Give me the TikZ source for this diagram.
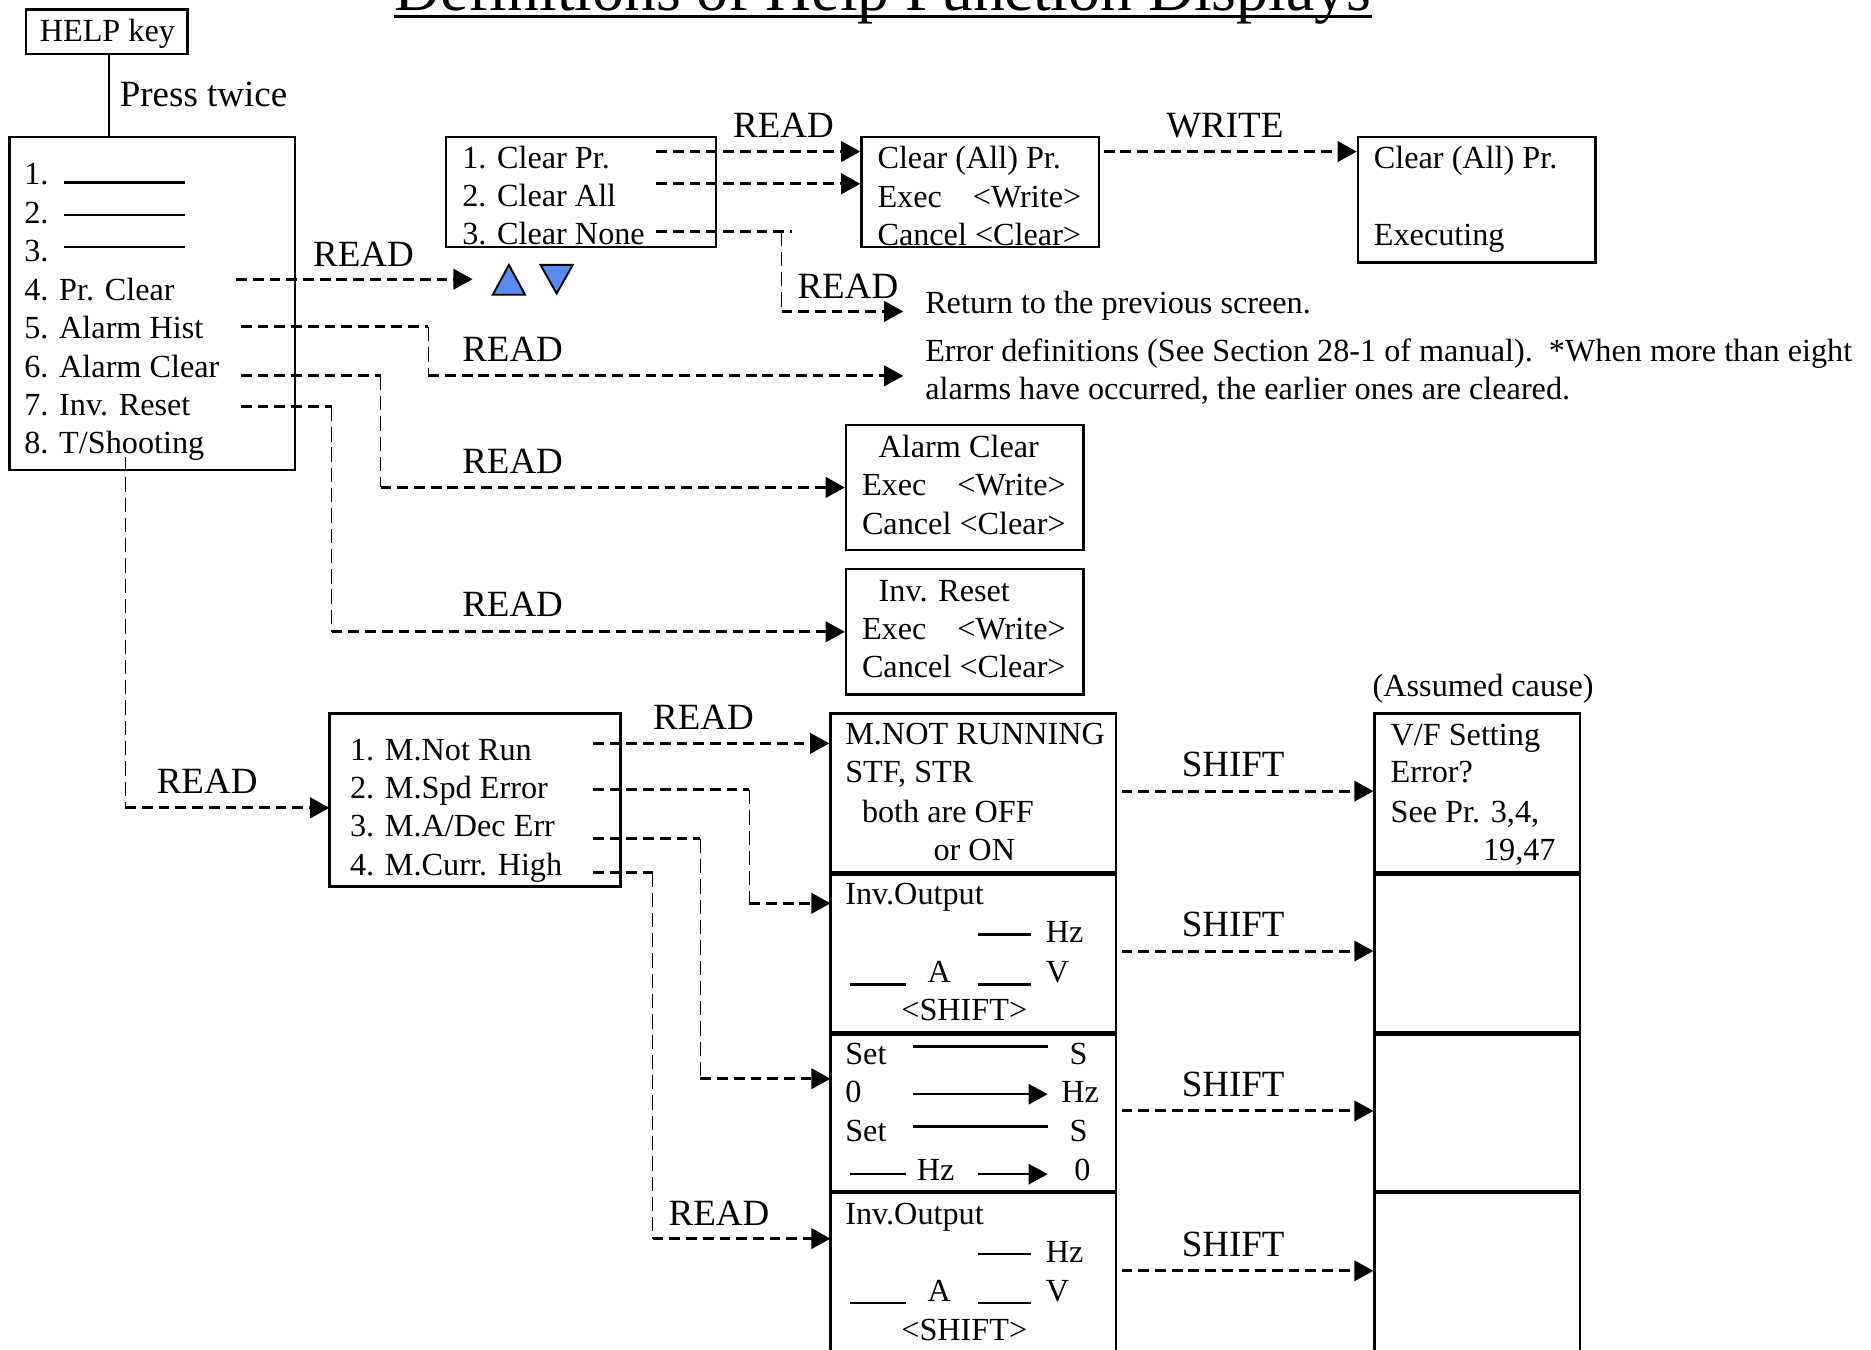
\documentclass[tikz,border=0pt]{standalone}
\usepackage{fontspec}
\setmainfont{Liberation Serif}
\usetikzlibrary{arrows.meta,fit}
\newcommand\boxfnt{\fontsize{13.5}{16}\selectfont}
\newcommand\lblfnt{\fontsize{15.5}{18}\selectfont}
\newcommand\ttlfnt{\fontsize{26.7}{30}\selectfont}
\definecolor{triblue}{RGB}{88,140,238}
\begin{document}
\begin{tikzpicture}[x=0.5pt,y=-0.5pt,
  box/.style={draw, line width=1pt, inner sep=0pt},
  txt/.style={anchor=base west, inner sep=0pt, font=\boxfnt},
  txtr/.style={anchor=base east, inner sep=0pt, font=\boxfnt},
  lbl/.style={anchor=base west, inner sep=0pt, font=\lblfnt},
  hd/.style={line width=1.25pt, dash pattern=on 4.5pt off 2.5pt},
  vd/.style={line width=0.6pt, dash pattern=on 6pt off 2.5pt},
  arr/.style={-{Triangle[length=8pt,width=8.5pt]}},
  uline/.style={line width=1pt},
  divider/.style={line width=2pt},
]
\useasboundingbox (0,0) rectangle (1568,1131);
\clip (0,0) rectangle (1568,1131);
\fill[white] (0,0) rectangle (1568,1131);

% title
\node[anchor=base west, inner sep=0pt, font=\ttlfnt] (title) at (330,9) {Definitions of Help Function Displays};
\draw[line width=1.3pt] ([yshift=-2.5pt]title.base west) -- ([yshift=-2.5pt]title.base east);

% HELP key
\node[box, fit={(22,8) (157,45)}] (help) {};
\node[txt] (helpt) at (33,35) {HELP key};
\node[box, fit={(8,115) (247,394)}] (main) {};
\coordinate (hk) at (91,46);
\draw[line width=0.8pt] (hk) -- (hk |- main.north);
\node[lbl] (press) at (100,89) {Press twice};

% main list
\node[txt] (i1) at (20,155) {1.};
\node[txt] (i2) at (20,187.2) {2.};
\node[txt] (i3) at (20,219.4) {3.};
\node[txt] (i4) at (20,251.6) {4. Pr. Clear};
\node[txt] (i5) at (20,283.8) {5. Alarm Hist};
\node[txt] (i6) at (20,316) {6. Alarm Clear};
\node[txt] (i7) at (20,348.2) {7. Inv. Reset};
\node[txt] (i8) at (20,380.4) {8. T/Shooting};
\draw[uline] (54,153) -- (155,153);
\draw[uline] (54,180) -- (155,180);
\draw[uline] (54,207) -- (155,207);

% Pr. Clear
\coordinate (c4) at (198,234);
\coordinate (c4e) at (396,234);
\draw[hd, arr] (c4) -- (c4e);
\node[lbl] (rd1) at (262,223) {READ};
\filldraw[fill=triblue, line width=0.8pt] (413,247) -- (426.5,222) -- (440,247) -- cycle;
\filldraw[fill=triblue, line width=0.8pt] (453,222) -- (480,222) -- (466.5,246) -- cycle;

% Clear box
\node[box, fit={(374,115) (600,207)}] (clr) {};
\node[txt] (cl1) at (387,141) {1. Clear Pr.};
\node[txt] (cl2) at (387,173) {2. Clear All};
\node[txt] (cl3) at (387,205) {3. Clear None};

\node[box, fit={(722,115) (921,207)}] (clrall) {};
\node[txt] (ca1) at (735,141) {Clear (All) Pr.};
\node[txt] (ca2) at (735,174) {Exec\hspace{13pt}<Write>};
\node[txt] (ca3) at (735,206) {Cancel <Clear>};

\node[box, fit={(1138,115) (1337,220)}] (exe) {};
\node[txt] (ex1) at (1151,141) {Clear (All) Pr.};
\node[txt] (ex2) at (1151,206) {Executing};

\coordinate (cp) at (550,127);
\draw[hd, arr] (cp) -- (cp -| clrall.west);
\coordinate (cal) at (550,154);
\draw[hd, arr] (cal) -- (cal -| clrall.west);
\node[lbl] (rd2) at (614,115) {READ};
\coordinate (cn) at (550,194);
\coordinate (cnx) at (664,194);
\coordinate (cnb) at (655,194);
\coordinate (ret) at (757,261);
\draw[hd] (cn) -- (cnx);
\draw[vd] (cnb) -- (cnb |- ret);
\draw[hd, arr] (cnb |- ret) -- (ret);
\node[lbl] (rd3) at (668,250) {READ};
\node[txt] (rett) at (775,263) {Return to the previous screen.};

\coordinate (wr) at (925,127);
\draw[hd, arr] (wr) -- (wr -| exe.west);
\node[lbl] (wrt) at (977,115) {WRITE};

% Alarm Hist
\coordinate (ah) at (202,274);
\coordinate (ahb) at (359,274);
\coordinate (err) at (757,315);
\draw[hd] (ah) -- (ahb);
\draw[vd] (ahb) -- (ahb |- err);
\draw[hd, arr] (ahb |- err) -- (err);
\node[lbl] (rd4) at (387,303) {READ};
\node[txt] (er1) at (775,303) {Error definitions (See Section 28-1 of manual).\ \ *When more than eight};
\node[txt] (er2) at (775,335) {alarms have occurred, the earlier ones are cleared.};

% Alarm Clear
\node[box, fit={(709,356) (908,461)}] (alclr) {};
\node[txt] (al1) at (736,383) {Alarm Clear};
\node[txt] (al2) at (722,415) {Exec\hspace{13pt}<Write>};
\node[txt] (al3) at (722,448) {Cancel <Clear>};
\coordinate (ac) at (202,315);
\coordinate (acb) at (319,315);
\draw[hd] (ac) -- (acb);
\draw[vd] (acb) -- (acb |- alclr.west);
\draw[hd, arr] (acb |- alclr.west) -- (alclr.west);
\node[lbl] (rd5) at (387,397) {READ};

% Inv Reset
\node[box, fit={(709,477) (908,582)}] (invr) {};
\node[txt] (iv1) at (736,504) {Inv. Reset};
\node[txt] (iv2) at (722,536) {Exec\hspace{13pt}<Write>};
\node[txt] (iv3) at (722,568) {Cancel <Clear>};
\coordinate (ir) at (202,341);
\coordinate (irb) at (278,341);
\draw[hd] (ir) -- (irb);
\draw[vd] (irb) -- (irb |- invr.west);
\draw[hd, arr] (irb |- invr.west) -- (invr.west);
\node[lbl] (rd6) at (387,517) {READ};

% T/Shooting
\node[box, fit={(276,598) (520,743)}] (mbox) {};
\node[txt] (m1t) at (293,637) {1. M.Not Run};
\node[txt] (m2t) at (293,669) {2. M.Spd Error};
\node[txt] (m3t) at (293,701) {3. M.A/Dec Err};
\node[txt] (m4t) at (293,734) {4. M.Curr. High};
\coordinate (ts) at (105,383);
\coordinate (tse) at (276,677);
\draw[vd] (ts) -- (ts |- tse);
\draw[hd, arr] (ts |- tse) -- (tse);
\node[lbl] (rd7) at (131,665) {READ};

% screens
\node[box, fit={(696,598) (935,731)}] (s1) {};
\node[box, fit={(696,731) (935,865)}] (s2) {};
\node[box, fit={(696,865) (935,998)}] (s3) {};
\node[box, fit={(696,998) (935,1145)}] (s4) {};
\node[box, fit={(1152,598) (1324,731)}] (r1) {};
\node[box, fit={(1152,731) (1324,865)}] (r2) {};
\node[box, fit={(1152,865) (1324,998)}] (r3) {};
\node[box, fit={(1152,998) (1324,1145)}] (r4) {};
\foreach \n in {s1,s2,s3,r1,r2,r3}{\draw[divider] (\n.south west) -- (\n.south east);}

% M connectors
\coordinate (m1) at (497,623);
\draw[hd, arr] (m1) -- (m1 -| s1.west);
\node[lbl] (rd8) at (547,611) {READ};
\coordinate (m2) at (497,662);
\coordinate (m2b) at (628,662);
\coordinate (m2e) at (696,757);
\draw[hd] (m2) -- (m2b);
\draw[vd] (m2b) -- (m2b |- m2e);
\draw[hd, arr] (m2b |- m2e) -- (m2e);
\coordinate (m3) at (497,703);
\coordinate (m3b) at (587,703);
\coordinate (m3e) at (696,904);
\draw[hd] (m3) -- (m3b);
\draw[vd] (m3b) -- (m3b |- m3e);
\draw[hd, arr] (m3b |- m3e) -- (m3e);
\coordinate (m4) at (497,731);
\coordinate (m4b) at (547,731);
\coordinate (m4e) at (696,1038);
\draw[hd] (m4) -- (m4b);
\draw[vd] (m4b) -- (m4b |- m4e);
\draw[hd, arr] (m4b |- m4e) -- (m4e);
\node[lbl] (rd9) at (560,1027) {READ};

% SHIFT connectors
\coordinate (sh1) at (940,663);
\draw[hd, arr] (sh1) -- (sh1 -| r1.west);
\coordinate (sh2) at (940,797);
\draw[hd, arr] (sh2) -- (sh2 -| r2.west);
\coordinate (sh3) at (940,931);
\draw[hd, arr] (sh3) -- (sh3 -| r3.west);
\coordinate (sh4) at (940,1065);
\draw[hd, arr] (sh4) -- (sh4 -| r4.west);
\node[lbl] (sf1) at (990,651) {SHIFT};
\node[lbl] (sf2) at (990,785) {SHIFT};
\node[lbl] (sf3) at (990,919) {SHIFT};
\node[lbl] (sf4) at (990,1053) {SHIFT};

% screen 1
\node[txt] (a1) at (708,624) {M.NOT RUNNING};
\node[txt] (a2) at (708,656) {STF, STR};
\node[txt] (a3) at (722,689) {both are OFF};
\node[txt] (a4) at (782,721) {or ON};
% screen 2
\node[txt] (b1) at (708,758) {Inv.Output};
\draw[uline] (820,783) -- (864,783);
\node[txt] (b2) at (876,790) {Hz};
\draw[uline] (712,825) -- (759,825);
\node[txt] (b3) at (777,823) {A};
\draw[uline] (820,825) -- (864,825);
\node[txt] (b4) at (876,823) {V};
\node[txt] (b5) at (755,855) {<SHIFT>};
% screen 3
\node[txt] (d1) at (708,892) {Set};
\draw[uline] (765,877) -- (878,877);
\node[txt] (d2) at (896,892) {S};
\node[txt] (d3) at (708,924) {0};
\draw[uline, arr] (765,917) -- (878,917);
\node[txt] (d4) at (889,924) {Hz};
\node[txt] (d5) at (708,957) {Set};
\draw[uline] (765,944) -- (878,944);
\node[txt] (d6) at (896,957) {S};
\draw[uline] (712,984) -- (759,984);
\node[txt] (d7) at (768,989) {Hz};
\draw[uline, arr] (820,984) -- (878,984);
\node[txt] (d8) at (900,989) {0};
% screen 4
\node[txt] (e1) at (708,1026) {Inv.Output};
\draw[uline] (820,1051) -- (864,1051);
\node[txt] (e2) at (876,1058) {Hz};
\draw[uline] (712,1092) -- (759,1092);
\node[txt] (e3) at (777,1091) {A};
\draw[uline] (820,1092) -- (864,1092);
\node[txt] (e4) at (876,1091) {V};
\node[txt] (e5) at (755,1123) {<SHIFT>};

% right column
\node[txt] (asc) at (1150,584) {(Assumed cause)};
\node[txt] (f1) at (1165,625) {V/F Setting};
\node[txt] (f2) at (1165,656) {Error?};
\node[txt] (f3) at (1165,689) {See Pr. 3,4,};
\node[txtr] (f4) at (1304,721) {19,47};
\end{tikzpicture}
\end{document}
